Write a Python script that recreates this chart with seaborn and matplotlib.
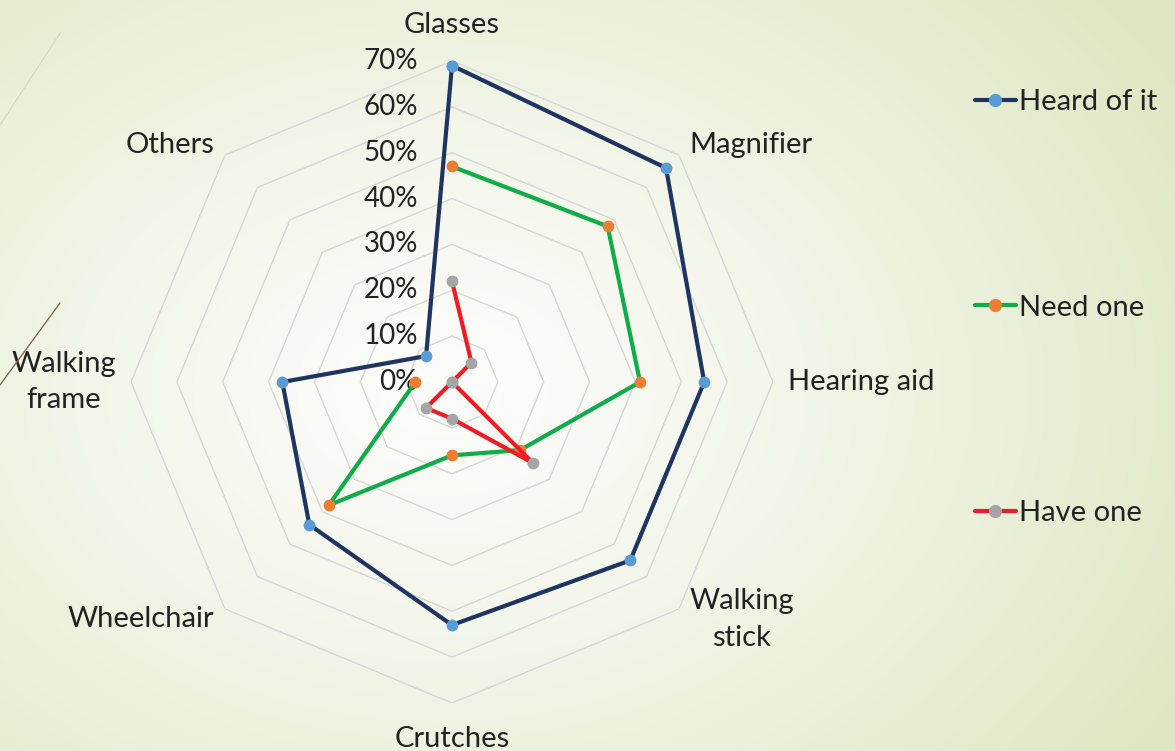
import numpy as np
import pandas as pd
import matplotlib
matplotlib.use("Agg")
import matplotlib.pyplot as plt
import matplotlib.transforms as mtransforms
from matplotlib.lines import Line2D
import seaborn as sns

sns.set_style("white")
plt.rcParams["font.family"] = ["Lato", "DejaVu Sans"]

# data (percent)
categories = ["Glasses", "Magnifier", "Hearing aid", "Walking stick",
              "Crutches", "Wheelchair", "Walking frame", "Others"]
category_labels = ["Glasses", "Magnifier", "Hearing aid", "Walking\nstick",
                   "Crutches", "Wheelchair", "Walking\nframe", "Others"]
heard_of_it = [69, 66, 55, 55, 53, 44, 37, 8]
need_one = [47, 48, 41, 21, 16, 38, 8, np.nan]
have_one = [22, 6, 0, 25, 8, 8, 0, np.nan]
series_names = ["Heard of it", "Need one", "Have one"]
r_ticks = [0, 10, 20, 30, 40, 50, 60, 70]

line_colors = ["#1f3461", "#10ac4a", "#ee1c25"]
marker_colors = ["#5b9bd5", "#ed7d31", "#a5a5a5"]
text_color = "#222222"
fs = 21
fs_tick = 20

fig = plt.figure(figsize=(11.75, 7.51), dpi=100)

# slide background gradient
H, W = 751, 1175
yy, xx = np.mgrid[0:H, 0:W]
d = np.sqrt(((xx - 440) / 760.0) ** 2 + ((yy - 390) / 560.0) ** 2)
t = np.clip(d, 0, 1.15) / 1.15
t = t ** 1.3
c0 = np.array([252, 252, 250]) / 255
c1 = np.array([221, 231, 193]) / 255
bg = c0[None, None, :] * (1 - t[..., None]) + c1[None, None, :] * t[..., None]
bax = fig.add_axes([0, 0, 1, 1], zorder=-5)
bax.imshow(bg, aspect="auto", extent=[0, 1, 0, 1], origin="upper")
bax.axis("off")

# decorative slide lines on the left
fig.add_artist(Line2D([60 / W, 0], [1 - 303 / H, 1 - 385 / H],
                      color="#7d6e55", lw=1.0))
fig.add_artist(Line2D([61 / W, 0], [1 - 32 / H, 1 - 125 / H],
                      color="#c4c2b4", lw=0.7, alpha=0.6))

# radar axes: centre (452, 382), 70% ring radius 321 px
cx, cy, R = 452, 382, 321
ax = fig.add_axes([(cx - R) / W, (H - cy - R) / H, 2 * R / W, 2 * R / H],
                  projection="polar")
ax.set_theta_zero_location("N")
ax.set_theta_direction(-1)
ax.patch.set_alpha(0)
ax.spines["polar"].set_visible(False)
ax.grid(False)

n = len(categories)
theta = np.arange(n) * 2 * np.pi / n

# octagonal gridlines
ring_theta = np.append(theta, 2 * np.pi)
for r in r_ticks[1:]:
    ax.plot(ring_theta, [r] * (n + 1), color="#d6d6d6", lw=1.0, zorder=1)

# series
for name, vals, lc, mc in zip(series_names, [heard_of_it, need_one, have_one],
                              line_colors, marker_colors):
    df = pd.DataFrame({"theta": theta, "value": vals}).dropna()
    if len(df) == n:
        df = pd.concat([df, pd.DataFrame({"theta": [2 * np.pi],
                                          "value": [vals[0]]})])
    sns.lineplot(data=df, x="theta", y="value", sort=False, estimator=None,
                 color=lc, lw=3.0, marker="o", markersize=8.5,
                 markerfacecolor=mc, markeredgecolor=mc, markeredgewidth=0,
                 ax=ax, zorder=3, clip_on=False)

ax.set_ylim(0, 70)
ax.set_xticks([])
ax.set_yticks([])
ax.set_xlabel("")
ax.set_ylabel("")

# radial value labels
off = mtransforms.offset_copy(ax.transData, fig=fig, x=-34, y=0, units="dots")
for r in r_ticks:
    ax.text(0, r, f"{r}%", transform=off, ha="right", va="center",
            fontsize=fs_tick, color=text_color, zorder=2)

# category labels
for i, lab in enumerate(category_labels):
    ang = theta[i]
    s = np.sin(ang)
    if abs(s) < 1e-6:
        ax.text(ang, 77.8, lab, ha="center", va="center", fontsize=fs,
                color=text_color)
    else:
        ax.text(ang, 73.2, lab, ha="left" if s > 0 else "right", va="center",
                fontsize=fs, color=text_color, multialignment="center",
                linespacing=1.5)

# legend
handles = [Line2D([0], [0], color=lc, lw=3.0, marker="o", markersize=8.5,
                  markerfacecolor=mc, markeredgecolor=mc)
           for lc, mc in zip(line_colors, marker_colors)]
fig.legend(handles, series_names, loc="upper left",
           bbox_to_anchor=(975 / W, 1 - 89 / H), frameon=False,
           fontsize=fs, handlelength=1.4, handletextpad=0.12,
           labelspacing=6.16, borderpad=0, borderaxespad=0,
           labelcolor=text_color)

fig.savefig("out.png", dpi=100)
